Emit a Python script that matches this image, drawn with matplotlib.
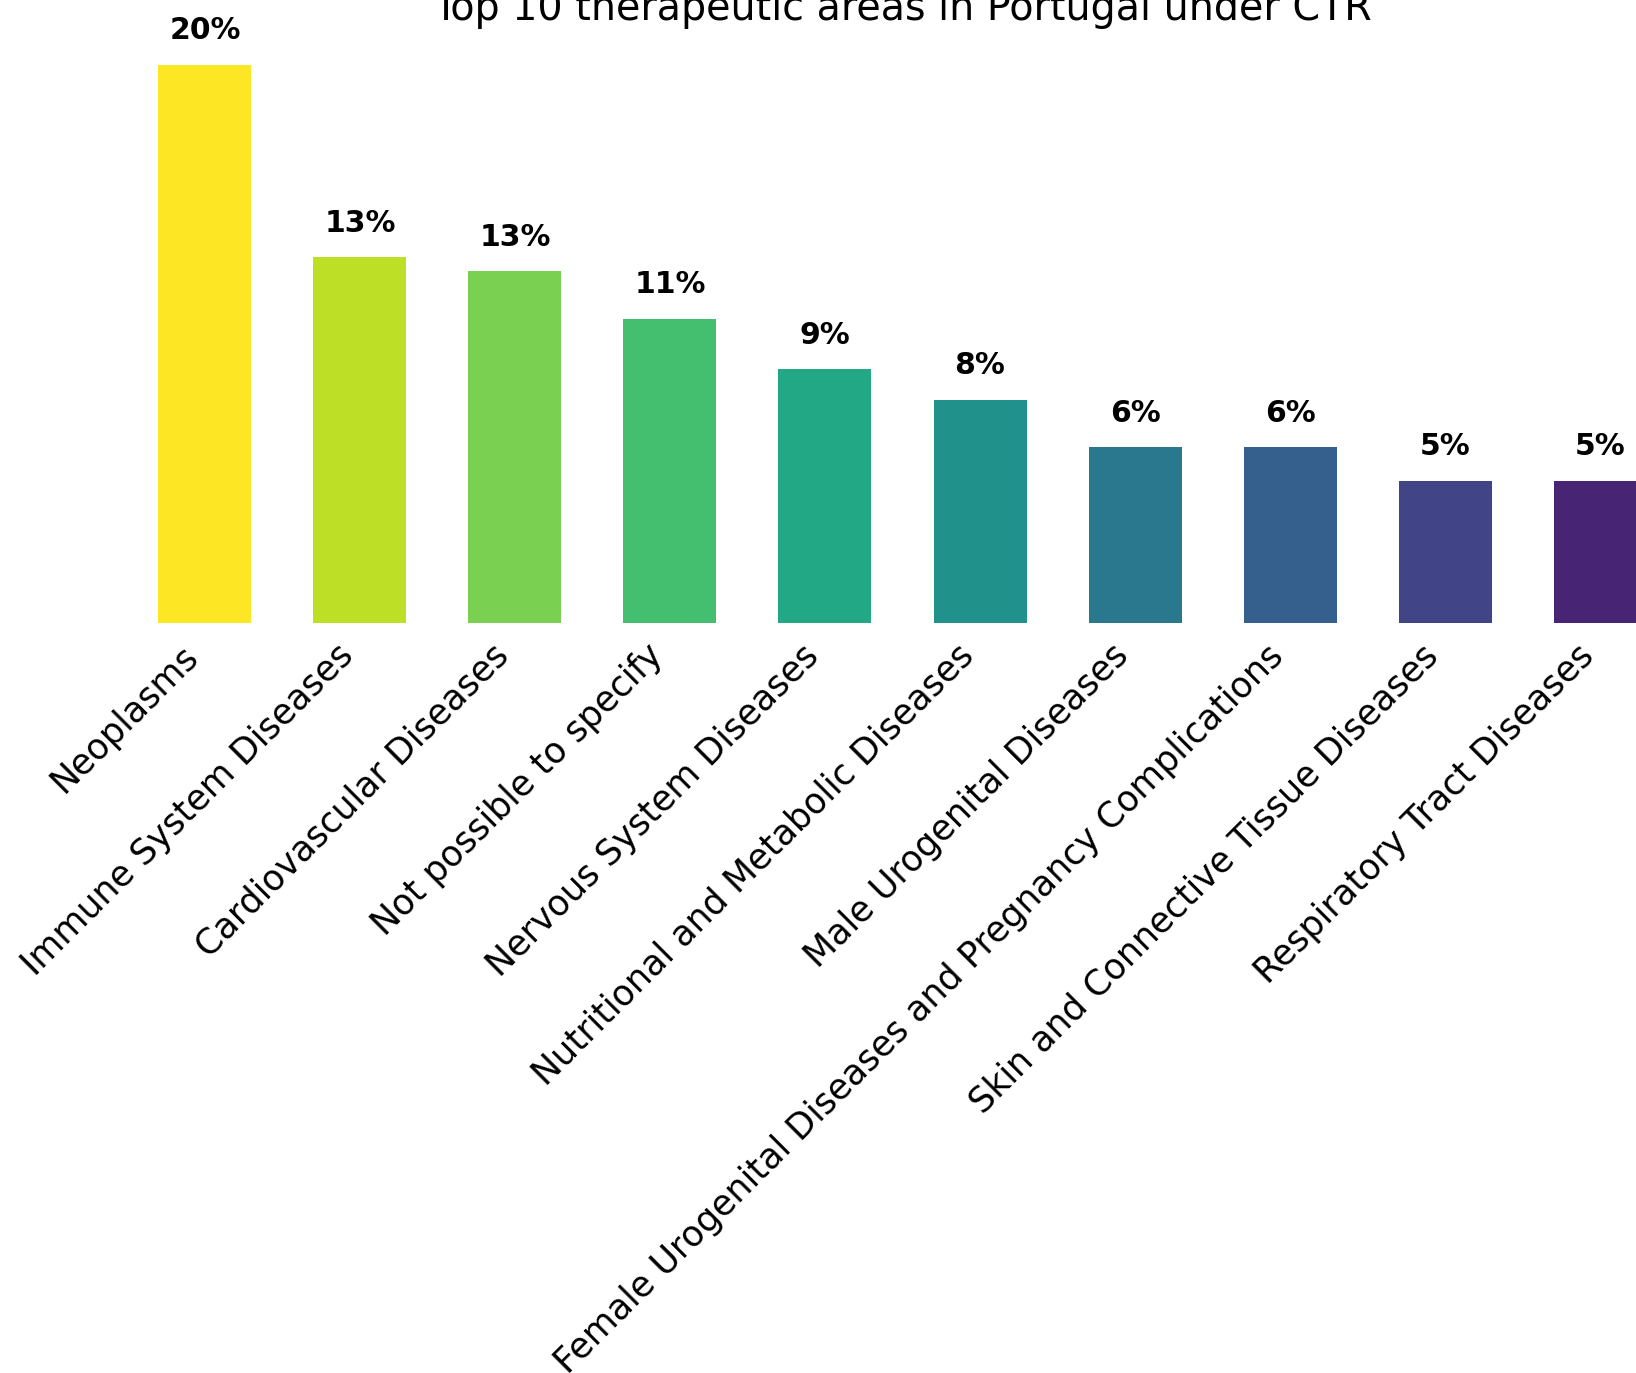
import numpy as np
import matplotlib
matplotlib.use("Agg")
import matplotlib.pyplot as plt

# top 10 therapeutic areas, share of trials (%)
areas = [
    "Neoplasms",
    "Immune System Diseases",
    "Cardiovascular Diseases",
    "Not possible to specify",
    "Nervous System Diseases",
    "Nutritional and Metabolic Diseases",
    "Male Urogenital Diseases",
    "Female Urogenital Diseases and Pregnancy Complications",
    "Skin and Connective Tissue Diseases",
    "Respiratory Tract Diseases",
]
share = [20.0, 13.1, 12.6, 10.9, 9.1, 8.0, 6.3, 6.3, 5.1, 5.1]

# viridis, reversed, one colour per bar (1.0 down to 0.1)
colors = plt.cm.viridis(np.linspace(1.0, 0.1, len(areas)))

fig = plt.figure(figsize=(16.36, 13.73), dpi=100)
ax = fig.add_axes([84/1636, 750/1373, 1637/1636, 586/1373])

x = np.arange(len(areas))
ax.bar(x, share, width=0.6, color=colors)

for xi, v in zip(x, share):
    ax.text(xi, v + 0.7, f"{v:.0f}%", ha="center", va="bottom",
            fontsize=21.5, fontweight="bold")

ax.set_xticks(x)
ax.set_xticklabels(areas, rotation=45, ha="right", fontsize=25.2)
ax.tick_params(axis="x", length=0, pad=11)
ax.set_yticks([])
for s in ax.spines.values():
    s.set_visible(False)

ax.set_title("Top 10 therapeutic areas in Portugal under CTR", fontsize=28.5, pad=12)

fig.savefig("out.png", dpi=100)
